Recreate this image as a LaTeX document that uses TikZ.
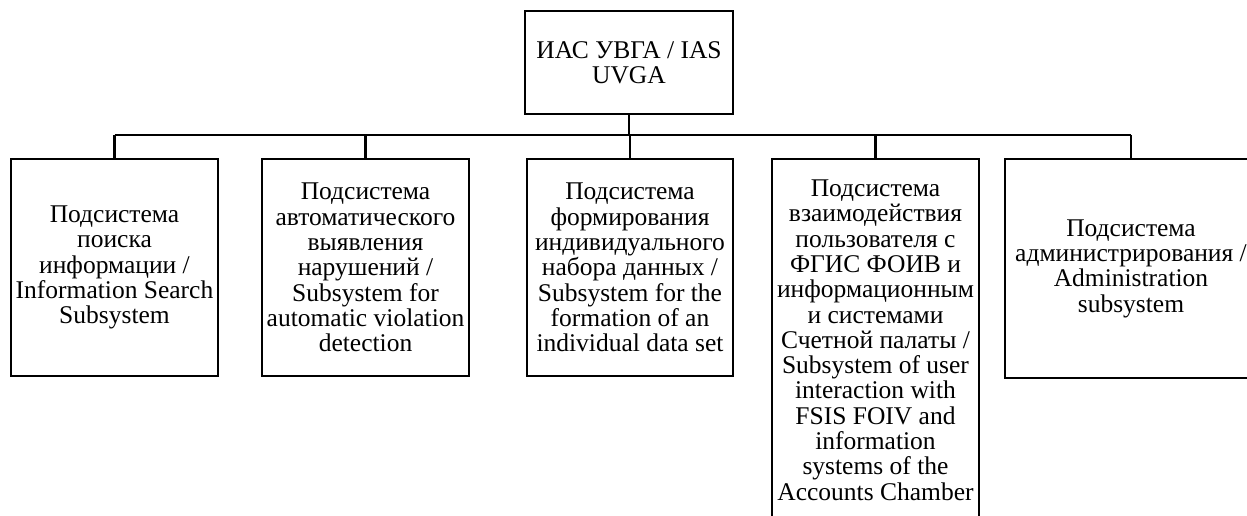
\documentclass[tikz,border=0pt]{standalone}
\usepackage{fontspec}
\setmainfont{Liberation Serif}
\begin{document}
\begin{tikzpicture}[x=1pt,y=-1pt,
  box/.style={draw=black,line width=2.2pt,rectangle,inner sep=0pt,align=center,
    font=\fontsize{25.5}{25.3}\selectfont,anchor=north},
  wire/.style={draw=black,line width=2.2pt}]
\useasboundingbox (0,0) rectangle (1247,516);
\clip (0,0) rectangle (1247,516);
\node[box,minimum width=208,minimum height=103] (top) at (629,10) {ИАС УВГА / IAS\\UVGA};
\node[box,minimum width=207,minimum height=217] (b1) at (114.5,158)
  {Подсистема\\поиска\\информации /\\Information Search\\Subsystem};
\node[box,minimum width=207,minimum height=217] (b2) at (365.5,158)
  {Подсистема\\автоматического\\выявления\\нарушений /\\Subsystem for\\automatic violation\\detection};
\node[box,minimum width=206,minimum height=217] (b3) at (630,158)
  {Подсистема\\формирования\\индивидуального\\набора данных /\\Subsystem for the\\formation of an\\individual data set};
\node[box,minimum width=207,minimum height=362] (b4) at (875.5,158)
  {Подсистема\\взаимодействия\\пользователя с\\ФГИС ФОИВ и\\информационным\\и системами\\Счетной палаты /\\Subsystem of user\\interaction with\\FSIS FOIV and\\information\\systems of the\\Accounts Chamber};
\node[box,minimum width=252,minimum height=219] (b5) at (1131,158)
  {Подсистема\\администрирования /\\Administration\\subsystem};
\coordinate (busy) at (0,135);
\draw[wire] (top.south) -- (top.south |- busy);
\draw[wire] (b1.north |- busy) -- (b5.north |- busy);
\foreach \b in {b1,b2,b3,b4,b5} \draw[wire] (\b.north |- busy) -- (\b.north);
\end{tikzpicture}
\end{document}
